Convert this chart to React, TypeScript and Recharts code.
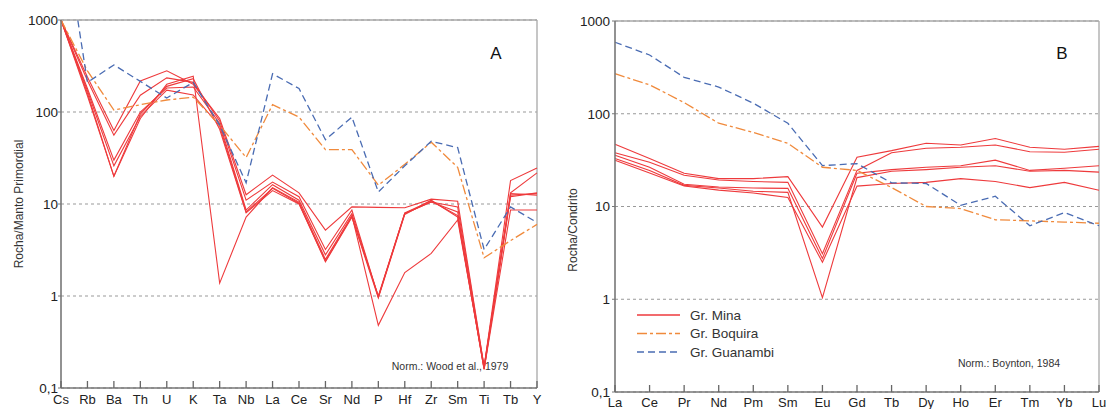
import React from 'react';
import { LineChart, Line, XAxis, YAxis, CartesianGrid, Customized, ReferenceLine } from 'recharts';

// ---------- Panel A: Manto Primordial normalised ----------
const elementsA = ['Cs', 'Rb', 'Ba', 'Th', 'U', 'K', 'Ta', 'Nb', 'La', 'Ce', 'Sr', 'Nd', 'P', 'Hf', 'Zr', 'Sm', 'Ti', 'Tb', 'Y'];
const minaA1 = [1000, 240, 63, 217, 280, 200, 85, 12.6, 20.6, 13.2, 5.2, 9.3, 9.2, 9.1, 11.3, 10.7, 0.17, 18, 24.6];
const minaA2 = [1000, 220, 56, 152, 235, 210, 80, 11, 17.3, 12, 3.2, 8.6, 0.98, 7.9, 10.5, 9.3, 0.17, 13.2, 21.8];
const minaA3 = [1000, 180, 30, 100, 182, 187, 75, 8.6, 16.2, 11, 2.8, 7.9, 0.98, 7.9, 10.5, 8.2, 0.16, 12, 13.2];
const minaA4 = [1000, 170, 26, 90, 173, 153, 70, 8.2, 14.8, 10.2, 2.35, 7.2, 0.95, 7.7, 11, 7.2, 0.16, 8.6, 8.6];
const minaA5 = [1000, 160, 20, 85, 200, 245, 1.38, 7.2, 15, 10.5, 2.5, 7.5, 0.48, 1.8, 2.9, 6.7, 0.17, 12.5, 13];
const minaA6 = [1000, 150, 20, 95, 190, 230, 65, 8, 14, 10, 2.4, 7.3, 1.0, 8, 10.8, 7.5, 0.16, 13, 12.5];
const boquiraA = [1000, 280, 105, 120, 135, 145, 72, 32, 120, 88, 39, 39, 16, 27, 47, 25, 2.6, 4, 6];
const guanambiA = [15000, 210, 325, 215, 142, 210, 72, 17, 260, 180, 50, 88, 13.5, 26, 48, 41, 3.2, 9.3, 6.3];

// ---------- Panel B: Condrito normalised ----------
const elementsB = ['La', 'Ce', 'Pr', 'Nd', 'Pm', 'Sm', 'Eu', 'Gd', 'Tb', 'Dy', 'Ho', 'Er', 'Tm', 'Yb', 'Lu'];
const minaB1 = [47, 33, 22.8, 20, 20, 21, 6.0, 34, 40, 48, 46, 54, 43.5, 41.5, 44.5];
const minaB2 = [38, 30, 21.7, 19.3, 18.6, 18.2, 3.1, 24.5, 38, 42.5, 43.5, 46, 39, 38.5, 41.5];
const minaB3 = [35.6, 26.5, 17.4, 16.2, 15.8, 15.7, 2.75, 22.8, 25, 26.5, 27.5, 31.6, 24.5, 25.8, 27.5];
const minaB4 = [33, 24.5, 16.9, 15.8, 14.6, 14.2, 1.04, 20.5, 24, 25, 26.5, 27.5, 24, 24.5, 23.5];
const minaB5 = [31.6, 23, 16.6, 15, 14, 12.5, 2.5, 16.6, 17.7, 18.2, 20, 18.6, 16, 18.2, 15];
const boquiraB = [270, 205, 132, 79, 63, 48, 26.5, 24.5, 16, 10, 9.5, 7.2, 7, 6.8, 6.6];
const guanambiB = [590, 430, 247, 194, 130, 79, 27.6, 29, 18, 17.7, 10.3, 12.9, 6.2, 8.6, 6.2];

const yTicks = [0.1, 1, 10, 100, 1000];
const yTickLabels = ['0,1', '1', '10', '100', '1000'];

const seriesNames = ['Gr. Mina', 'Gr. Boquira', 'Gr. Guanambi'];

const minaA = [minaA1, minaA2, minaA3, minaA4, minaA5, minaA6];
const minaB = [minaB1, minaB2, minaB3, minaB4, minaB5];

const buildData = (els: string[], minas: number[][], boq: number[], gua: number[]) =>
  els.map((el, i) => {
    const row: Record<string, number | string> = { el, boq: boq[i], gua: gua[i] };
    minas.forEach((m, k) => {
      row['m' + k] = m[i];
    });
    return row;
  });

const dataA = buildData(elementsA, minaA, boquiraA, guanambiA);
const dataB = buildData(elementsB, minaB, boquiraB, guanambiB);

const RED = '#ee3a3c';
const ORANGE = '#f08a3c';
const BLUE = '#4a6cb3';
const ORANGE_DASH = '10 3 3 3';
const BLUE_DASH = '7 4';
const FONT = '"Liberation Sans", Arial, sans-serif';

const fmt = (v: number) => {
  const i = yTicks.indexOf(v);
  return i >= 0 ? yTickLabels[i] : String(v);
};

const makeXTick = (offset: number) => (props: any) => {
  const { x, y, payload } = props;
  return (
    <g>
      <line x1={x} x2={x} y1={y} y2={y - 7} stroke="#666" strokeWidth={1.3} />
      <text x={x} y={y + offset} textAnchor="middle" fontSize={13} fill="#222" fontFamily={FONT}>
        {payload.value}
      </text>
    </g>
  );
};

export default function App() {
  const lines = (minas: number[][]) => [
    ...minas.map((_, k) => (
      <Line
        key={'m' + k}
        dataKey={'m' + k}
        name={seriesNames[0]}
        type="linear"
        stroke={RED}
        strokeWidth={1.1}
        dot={false}
        activeDot={false}
        isAnimationActive={false}
      />
    )),
    <Line key="boq" dataKey="boq" name={seriesNames[1]} type="linear" stroke={ORANGE} strokeWidth={1.3} strokeDasharray={ORANGE_DASH} dot={false} activeDot={false} isAnimationActive={false} />,
    <Line key="gua" dataKey="gua" name={seriesNames[2]} type="linear" stroke={BLUE} strokeWidth={1.3} strokeDasharray={BLUE_DASH} dot={false} activeDot={false} isAnimationActive={false} />,
  ];

  const axes = (yWidth: number, xHeight: number, tickOffset: number, yTickMargin: number, lastEl: string) => [
    <CartesianGrid key="grid" vertical={false} stroke="#999" strokeDasharray="3 3" />,
    <XAxis
      key="xb"
      dataKey="el"
      type="category"
      interval={0}
      height={xHeight}
      tickSize={0}
      tickMargin={0}
      tick={makeXTick(tickOffset)}
      axisLine={{ stroke: '#777', strokeWidth: 1.6 }}
    />,
    <YAxis
      key="yl"
      scale="log"
      type="number"
      domain={[0.1, 1000]}
      allowDataOverflow
      ticks={yTicks}
      tickFormatter={fmt}
      width={yWidth}
      tickSize={3}
      tickMargin={yTickMargin}
      tickLine={{ stroke: '#777' }}
      axisLine={{ stroke: '#777', strokeWidth: 1.6 }}
      tick={{ fontSize: 13.5, fill: '#222', fontFamily: FONT }}
      interval={0}
    />,
    <ReferenceLine key="top" y={1000} stroke="#a8a8a8" strokeWidth={1.3} ifOverflow="visible" />,
    <ReferenceLine key="right" x={lastEl} stroke="#a8a8a8" strokeWidth={1.3} ifOverflow="visible" />,
  ];

  const annotA = () => (
    <g fontFamily={FONT}>
      <text x={19} y={204} transform="rotate(-90 19 204)" textAnchor="middle" dominantBaseline="central" fontSize={12} fill="#333">
        Rocha/Manto Primordial
      </text>
      <text x={496} y={59} textAnchor="middle" fontSize={17} fill="#111">A</text>
      <text x={450} y={370} textAnchor="middle" fontSize={10.5} fill="#333">Norm.: Wood et al., 1979</text>
    </g>
  );

  const legendRows = [
    { name: seriesNames[0], color: RED, dash: undefined as string | undefined },
    { name: seriesNames[1], color: ORANGE, dash: ORANGE_DASH },
    { name: seriesNames[2], color: BLUE, dash: BLUE_DASH },
  ];

  const annotB = () => (
    <g fontFamily={FONT}>
      <text x={13} y={230} transform="rotate(-90 13 230)" textAnchor="middle" dominantBaseline="central" fontSize={12} fill="#333">
        Rocha/Condrito
      </text>
      <text x={502} y={59} textAnchor="middle" fontSize={17} fill="#111">B</text>
      <text x={449} y={367} textAnchor="middle" fontSize={10.5} fill="#333">Norm.: Boynton, 1984</text>
      {legendRows.map((r, i) => (
        <g key={r.name}>
          <line x1={77} x2={120} y1={315 + i * 18.5} y2={315 + i * 18.5} stroke={r.color} strokeWidth={1.3} strokeDasharray={r.dash} />
          <text x={130} y={315 + i * 18.5} dominantBaseline="central" fontSize={13.5} fill="#333">{r.name}</text>
        </g>
      ))}
    </g>
  );

  return (
    <div style={{ position: 'absolute', left: 0, top: 0, width: 1108, height: 409, background: '#fff', fontFamily: FONT }}>
      <div style={{ position: 'absolute', left: 0, top: 0 }}>
        <LineChart width={560} height={409} data={dataA} margin={{ top: 20, right: 23, bottom: 0, left: 0 }}>
          {axes(61, 21, 16, 0, elementsA[elementsA.length - 1])}
          {lines(minaA)}
          <Customized component={annotA} />
        </LineChart>
      </div>
      <div style={{ position: 'absolute', left: 560, top: 0 }}>
        <LineChart width={548} height={409} data={dataB} margin={{ top: 21, right: 9, bottom: 0, left: 0 }}>
          {axes(55, 17, 14.5, 2, elementsB[elementsB.length - 1])}
          {lines(minaB)}
          <Customized component={annotB} />
        </LineChart>
      </div>
    </div>
  );
}
